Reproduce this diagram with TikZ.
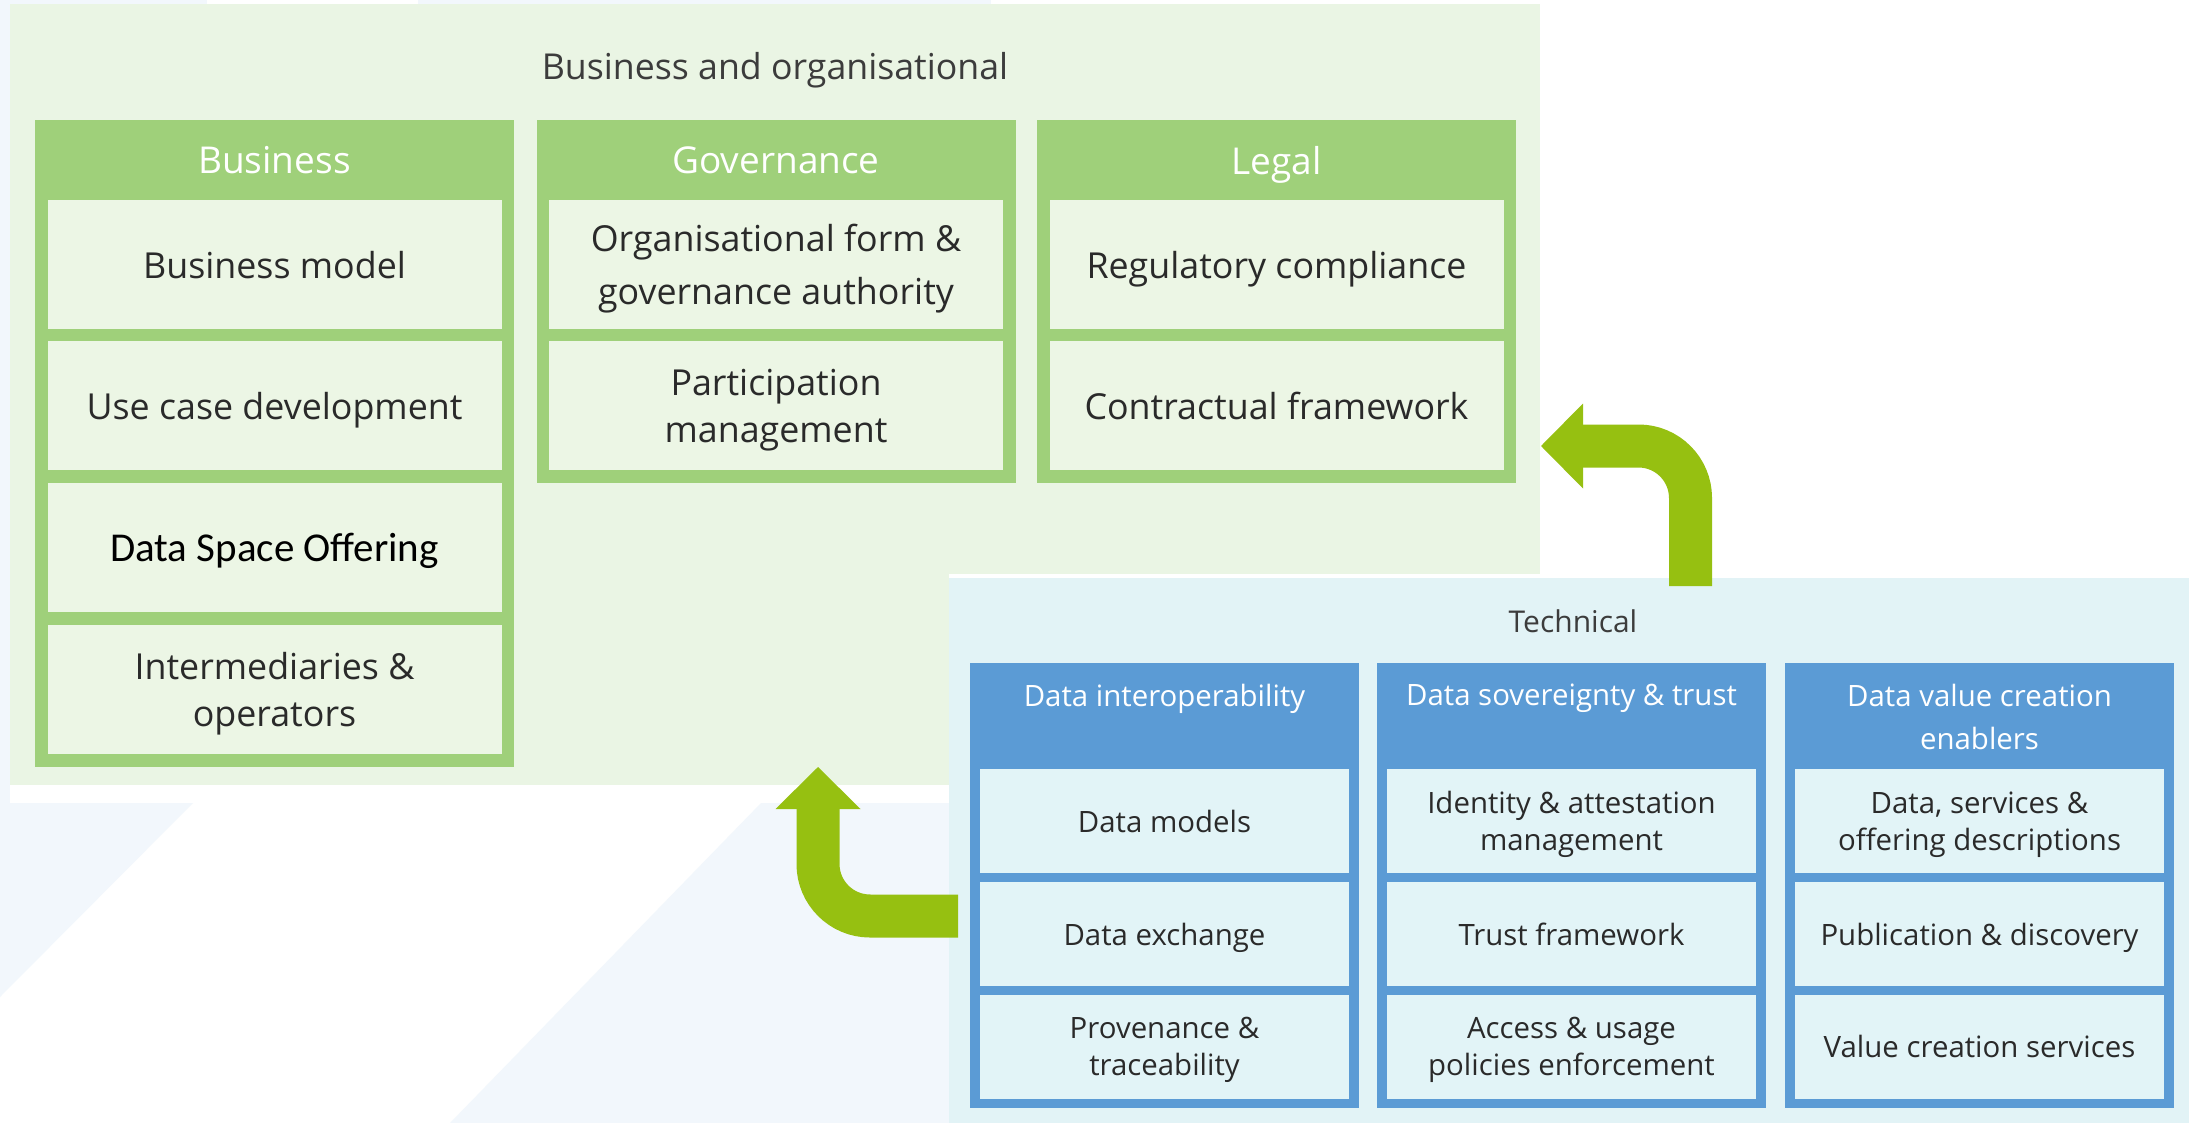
\documentclass[tikz,border=0pt]{standalone}
\usepackage{fontspec}
\setmainfont{Open Sans}
\newfontfamily\carlito{Carlito}
\usetikzlibrary{arrows.meta}
\definecolor{gpanel}{HTML}{EAF5E4}
\definecolor{gcol}{HTML}{9FD07A}
\definecolor{gbox}{HTML}{ECF6E5}
\definecolor{tpanel}{HTML}{E2F3F6}
\definecolor{tcol}{HTML}{5B9BD5}
\definecolor{tbox}{HTML}{E2F4F7}
\definecolor{arrowg}{HTML}{96C011}
\definecolor{pale}{HTML}{F2F7FC}
\definecolor{txt}{HTML}{2A2A2A}
\definecolor{ttl}{HTML}{3C3C3C}
\begin{document}
\begin{tikzpicture}[x=1pt,y=-1pt,
  box/.style={rectangle, inner sep=0pt, outer sep=0pt, draw=none},
  nodepth/.style={text depth=0pt},
  gcolumn/.style={box, fill=gcol, minimum width=479pt},
  gitem/.style={box, nodepth, fill=gbox, text=txt, align=center,
    font=\fontsize{35.8}{47}\selectfont, minimum width=454pt, minimum height=129pt},
  ghead/.style={inner sep=0pt, nodepth, text=white, font=\fontsize{37}{40}\selectfont},
  tcolumn/.style={box, fill=tcol, minimum width=389pt, minimum height=445pt},
  titem/.style={box, nodepth, fill=tbox, text=txt, align=center,
    font=\fontsize{29.4}{37}\selectfont, minimum width=369pt, minimum height=104pt},
  thead/.style={inner sep=0pt, anchor=north, text=white, align=center,
    font=\fontsize{29.4}{43}\selectfont},
  bigarrow/.style={draw=arrowg, line width=43pt, rounded corners=52pt,
    -{Triangle[length=42pt 0 1, width=85pt 0 1, line width=0pt 0 0]}}
]
\useasboundingbox (0,0) rectangle (2189,1123);
\fill[white] (0,0) rectangle (2189,1123);
% faint background shapes
\fill[pale] (0,0) rectangle (207,4);
\fill[pale] (418,0) rectangle (991,4);
\fill[pale] (0,0) rectangle (10,803);
\fill[pale] (0,803) -- (193,803) -- (0,997) -- cycle;
\fill[pale] (761,803) -- (960,803) -- (960,1123) -- (450,1123) -- cycle;

% Business and organisational panel
\node[box, fill=gpanel, minimum width=1530pt, minimum height=781pt] (bo) at (775,394.5) {};
\node[inner sep=0pt, nodepth, text=ttl, font=\fontsize{35.7}{40}\selectfont] (botitle) at (775,66) {Business and organisational};

\node[gcolumn, minimum height=647pt] (cbus) at (274.5,443.5) {};
\node[gcolumn, minimum height=363pt] (cgov) at (776,301.5) {};
\node[gcolumn, minimum height=363pt] (cleg) at (1276.5,301.5) {};

\node[ghead] (hbus) at (274.5,160) {Business};
\node[ghead] (hgov) at (776,160) {Governance};
\node[ghead] (hleg) at (1276.5,160) {Legal};

\node[gitem] (b1) at (274.5,264.5) {Business model};
\node[gitem] (b2) at (274.5,405.5) {Use case development};
\node[gitem, text=black, font=\carlito\fontsize{41}{47}\selectfont] (b3) at (274.5,547.5) {Data Space Offering};
\node[gitem] (b4) at (274.5,689.5) {Intermediaries \&\\operators};

\node[gitem, font=\fontsize{35.8}{53}\selectfont] (g1) at (776,264.5) {Organisational form \&\\governance authority};
\node[gitem] (g2) at (776,405.5) {Participation\\management};

\node[gitem] (l1) at (1276.5,264.5) {Regulatory compliance};
\node[gitem] (l2) at (1276.5,405.5) {Contractual framework};

% Technical panel
\fill[white] (949,574) rectangle (2189,1123);
\node[box, fill=tpanel, minimum width=1240pt, minimum height=545pt] (tech) at (1569,850.5) {};
\node[inner sep=0pt, nodepth, text=ttl, font=\fontsize{30}{34}\selectfont] (techtitle) at (1573,621) {Technical};

\node[tcolumn] (ci) at (1164.5,885.5) {};
\node[tcolumn] (cs) at (1571.5,885.5) {};
\node[tcolumn] (cv) at (1979.5,885.5) {};

\node[thead] (hi) at (1164.5,684) {Data interoperability};
\node[thead] (hs) at (1571.5,684) {Data sovereignty \& trust};
\node[thead] (hv) at (1979.5,684) {Data value creation\\enablers};

\node[titem] (i1) at (1164.5,821) {Data models};
\node[titem] (i2) at (1164.5,934) {Data exchange};
\node[titem] (i3) at (1164.5,1046.5) {Provenance \&\\traceability};

\node[titem] (s1) at (1571.5,821) {Identity \& attestation\\management};
\node[titem] (s2) at (1571.5,934) {Trust framework};
\node[titem] (s3) at (1571.5,1046.5) {Access \& usage\\policies enforcement};

\node[titem] (v1) at (1979.5,821) {Data, services \&\\offering descriptions};
\node[titem] (v2) at (1979.5,934) {Publication \& discovery};
\node[titem] (v3) at (1979.5,1046.5) {Value creation services};

% arrows
\coordinate (a1s) at (1690.5,586);
\coordinate (a1e) at (1541,446);
\coordinate (a2s) at (958,916);
\coordinate (a2e) at (818,767);
\draw[bigarrow] (a1s) |- (a1e);
\draw[bigarrow] (a2s) -| (a2e);
\end{tikzpicture}
\end{document}
